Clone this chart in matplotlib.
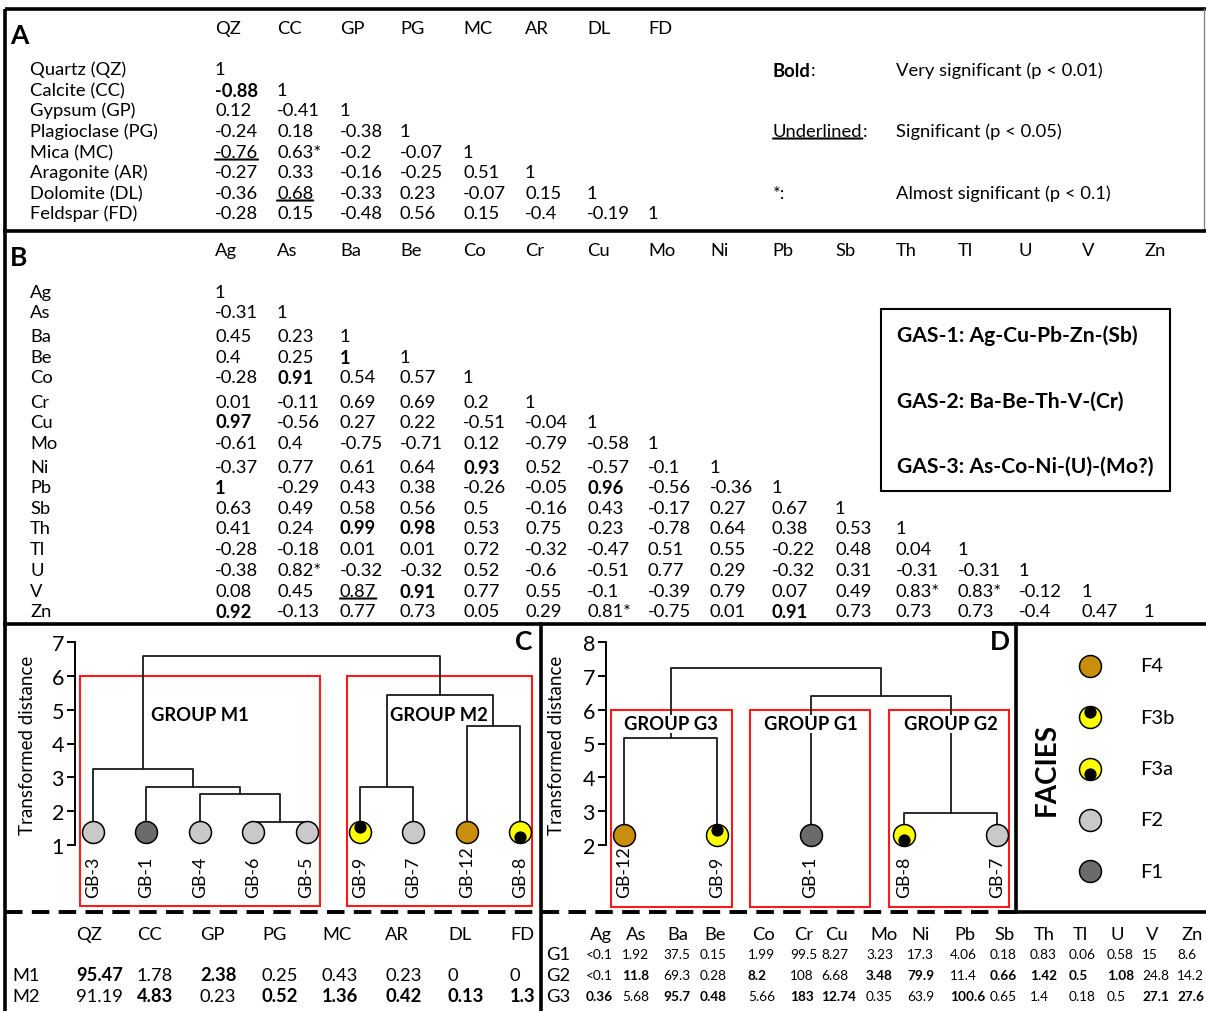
import matplotlib.pyplot as plt
from matplotlib.patches import Rectangle
from matplotlib.transforms import offset_copy, blended_transform_factory

plt.rcParams['font.family'] = ['Lato', 'DejaVu Sans']

W, H = 1206, 1012

# ---------------- data ----------------
# panel A: mineral correlation matrix (lower triangle)
min_codes = ["QZ", "CC", "GP", "PG", "MC", "AR", "DL", "FD"]
min_names = ["Quartz (QZ)", "Calcite (CC)", "Gypsum (GP)", "Plagioclase (PG)",
             "Mica (MC)", "Aragonite (AR)", "Dolomite (DL)", "Feldspar (FD)"]
min_corr = [
    ["1"],
    ["-0.88", "1"],
    ["0.12", "-0.41", "1"],
    ["-0.24", "0.18", "-0.38", "1"],
    ["-0.76", "0.63*", "-0.2", "-0.07", "1"],
    ["-0.27", "0.33", "-0.16", "-0.25", "0.51", "1"],
    ["-0.36", "0.68", "-0.33", "0.23", "-0.07", "0.15", "1"],
    ["-0.28", "0.15", "-0.48", "0.56", "0.15", "-0.4", "-0.19", "1"],
]
min_bold = [(1, 0)]
min_under = [(4, 0), (6, 1)]

# panel B: element correlation matrix (lower triangle)
elem_codes = ["Ag", "As", "Ba", "Be", "Co", "Cr", "Cu", "Mo",
              "Ni", "Pb", "Sb", "Th", "Tl", "U", "V", "Zn"]
elem_corr = [
    ["1"],
    ["-0.31", "1"],
    ["0.45", "0.23", "1"],
    ["0.4", "0.25", "1", "1"],
    ["-0.28", "0.91", "0.54", "0.57", "1"],
    ["0.01", "-0.11", "0.69", "0.69", "0.2", "1"],
    ["0.97", "-0.56", "0.27", "0.22", "-0.51", "-0.04", "1"],
    ["-0.61", "0.4", "-0.75", "-0.71", "0.12", "-0.79", "-0.58", "1"],
    ["-0.37", "0.77", "0.61", "0.64", "0.93", "0.52", "-0.57", "-0.1", "1"],
    ["1", "-0.29", "0.43", "0.38", "-0.26", "-0.05", "0.96", "-0.56", "-0.36", "1"],
    ["0.63", "0.49", "0.58", "0.56", "0.5", "-0.16", "0.43", "-0.17", "0.27", "0.67", "1"],
    ["0.41", "0.24", "0.99", "0.98", "0.53", "0.75", "0.23", "-0.78", "0.64", "0.38", "0.53", "1"],
    ["-0.28", "-0.18", "0.01", "0.01", "0.72", "-0.32", "-0.47", "0.51", "0.55", "-0.22", "0.48",
     "0.04", "1"],
    ["-0.38", "0.82*", "-0.32", "-0.32", "0.52", "-0.6", "-0.51", "0.77", "0.29", "-0.32", "0.31",
     "-0.31", "-0.31", "1"],
    ["0.08", "0.45", "0.87", "0.91", "0.77", "0.55", "-0.1", "-0.39", "0.79", "0.07", "0.49",
     "0.83*", "0.83*", "-0.12", "1"],
    ["0.92", "-0.13", "0.77", "0.73", "0.05", "0.29", "0.81*", "-0.75", "0.01", "0.91", "0.73",
     "0.73", "0.73", "-0.4", "0.47", "1"],
]
elem_bold = [(3, 2), (4, 1), (6, 0), (8, 4), (9, 0), (9, 6), (11, 2), (11, 3),
             (14, 3), (15, 0), (15, 9)]
elem_under = [(14, 2)]

gas_lines = ["GAS-1: Ag-Cu-Pb-Zn-(Sb)", "GAS-2: Ba-Be-Th-V-(Cr)", "GAS-3: As-Co-Ni-(U)-(Mo?)"]

# panel C dendrogram (mineralogy)
c_leaves = ["GB-3", "GB-1", "GB-4", "GB-6", "GB-5", "GB-9", "GB-7", "GB-12", "GB-8"]
c_facies = ["F2", "F1", "F2", "F2", "F2", "F3b", "F2", "F4", "F3a"]
c_merges = [(3, 4, 1.68), (2, 9, 2.51), (1, 10, 2.72), (0, 11, 3.25),
            (5, 6, 2.72), (7, 8, 4.52), (13, 14, 5.44), (12, 15, 6.6)]
c_leaf_y = 1.38

# panel D dendrogram (geochemistry)
d_leaves = ["GB-12", "GB-9", "GB-1", "GB-8", "GB-7"]
d_facies = ["F4", "F3b", "F1", "F3a", "F2"]
d_merges = [(0, 1, 5.17), (3, 4, 2.95), (2, 6, 6.41), (5, 7, 7.24)]
d_leaf_y = 2.3

facies_names = ["F4", "F3b", "F3a", "F2", "F1"]
facies_color = {"F4": "#c98f0c", "F3b": "#ffff00", "F3a": "#ffff00",
                "F2": "#c9c9c9", "F1": "#6b6b6b"}
facies_dot = {"F3b": 1, "F3a": -1}

# group mean mineralogy
grp_min_rows = ["M1", "M2"]
grp_min_vals = [["95.47", "1.78", "2.38", "0.25", "0.43", "0.23", "0", "0"],
                ["91.19", "4.83", "0.23", "0.52", "1.36", "0.42", "0.13", "1.3"]]
grp_min_bold = [[1, 0, 1, 0, 0, 0, 0, 0],
                [0, 1, 0, 1, 1, 1, 1, 1]]

# group mean geochemistry
grp_geo_rows = ["G1", "G2", "G3"]
grp_geo_vals = [
    ["<0.1", "1.92", "37.5", "0.15", "1.99", "99.5", "8.27", "3.23", "17.3", "4.06", "0.18",
     "0.83", "0.06", "0.58", "15", "8.6"],
    ["<0.1", "11.8", "69.3", "0.28", "8.2", "108", "6.68", "3.48", "79.9", "11.4", "0.66",
     "1.42", "0.5", "1.08", "24.8", "14.2"],
    ["0.36", "5.68", "95.7", "0.48", "5.66", "183", "12.74", "0.35", "63.9", "100.6", "0.65",
     "1.4", "0.18", "0.5", "27.1", "27.6"],
]
grp_geo_bold = [
    [0] * 16,
    [0, 1, 0, 0, 1, 0, 0, 1, 1, 0, 1, 1, 1, 1, 0, 0],
    [1, 0, 1, 1, 0, 1, 1, 0, 0, 1, 0, 0, 0, 0, 1, 1],
]

# ---------------- layout (pixels) ----------------
col_x = [215, 277, 340, 400, 463, 525, 587, 648, 710, 772, 835, 896, 958, 1019, 1082, 1144]
a_rows_y = [70, 91, 111, 132, 153, 173, 194, 214]
b_rows_y = [293, 313, 337, 358, 378, 403, 423, 444, 468, 488, 509, 529, 550, 571, 592, 612]
min_tab_x = [76, 137, 200, 262, 322, 385, 448, 510]
geo_tab_x = [586, 622, 663, 700, 748, 790, 821, 866, 907, 950, 990, 1030, 1069, 1107, 1142, 1177]

fig = plt.figure(figsize=(W / 100, H / 100), dpi=100)
bg = fig.add_axes([0, 0, 1, 1])
bg.set_xlim(0, W)
bg.set_ylim(H, 0)
bg.axis("off")

FS = 13.2


def underline(t):
    bg.annotate("", xy=(1, 0.03), xycoords=t, xytext=(0, 0.03), textcoords=t,
                arrowprops=dict(arrowstyle="-", lw=1.5, color="black", shrinkA=0, shrinkB=0))


# frame lines
lw_frame = 2.6
bg.plot([5, W], [10, 10], color="black", lw=lw_frame, solid_capstyle="butt")
bg.plot([5, 5], [10, H], color="black", lw=lw_frame, solid_capstyle="butt")
bg.plot([1204, 1204], [10, 232], color="#888888", lw=1)
bg.plot([5, W], [232, 232], color="black", lw=lw_frame)
bg.plot([5, W], [625, 625], color="black", lw=lw_frame)
bg.plot([541, 541], [625, H], color="black", lw=lw_frame)
bg.plot([1016, 1016], [625, 913], color="black", lw=lw_frame)
bg.plot([1016, W], [913, 913], color="black", lw=lw_frame)
bg.plot([5, 1016], [913, 913], color="black", lw=2.8, ls=(0, (4.5, 2.4)))

# ---------------- panel A ----------------
bg.text(10, 36, "A", fontsize=19, fontweight="bold", va="center", ha="left")
for j, c in enumerate(min_codes):
    bg.text(col_x[j], 29, c, fontsize=FS, va="center")
for i, name in enumerate(min_names):
    bg.text(30, a_rows_y[i], name, fontsize=FS, va="center")
    for j, v in enumerate(min_corr[i]):
        t = bg.text(col_x[j], a_rows_y[i], v, fontsize=FS, va="center",
                    fontweight="bold" if (i, j) in min_bold else "normal")
        if (i, j) in min_under:
            underline(t)

t = bg.text(773, 71, "Bold", fontsize=FS, fontweight="bold", va="center")
bg.annotate(":", xy=(1, 0.5), xycoords=t, va="center", ha="left", fontsize=FS)
bg.text(896, 71, "Very significant (p < 0.01)", fontsize=FS, va="center")
t = bg.text(773, 132, "Underlined", fontsize=FS, va="center")
underline(t)
bg.annotate(":", xy=(1, 0.5), xycoords=t, va="center", ha="left", fontsize=FS)
bg.text(896, 132, "Significant (p < 0.05)", fontsize=FS, va="center")
bg.text(773, 194, "*:", fontsize=FS, va="center")
bg.text(896, 194, "Almost significant (p < 0.1)", fontsize=FS, va="center")

# ---------------- panel B ----------------
bg.text(10, 258, "B", fontsize=19, fontweight="bold", va="center", ha="left")
for j, c in enumerate(elem_codes):
    bg.text(col_x[j], 251, c, fontsize=FS, va="center")
for i, c in enumerate(elem_codes):
    bg.text(30, b_rows_y[i], c, fontsize=FS, va="center")
    for j, v in enumerate(elem_corr[i]):
        t = bg.text(col_x[j], b_rows_y[i], v, fontsize=FS, va="center",
                    fontweight="bold" if (i, j) in elem_bold else "normal")
        if (i, j) in elem_under:
            underline(t)

bg.add_patch(Rectangle((881, 310), 289, 182, fill=False, ec="black", lw=1.5))
for k, s in enumerate(gas_lines):
    bg.text(897, 336 + 65.5 * k, s, fontsize=15.2, fontweight="bold", va="center")


# ---------------- dendrograms ----------------
def draw_facies(ax, x, y, f, trans):
    ax.plot(x, y, "o", ms=15.8, mfc=facies_color[f], mec="black", mew=1.1,
            transform=trans, clip_on=False, zorder=5)
    if f in facies_dot:
        tr = offset_copy(trans, fig=fig, x=0, y=5 * facies_dot[f], units="dots")
        ax.plot(x, y, "o", ms=7.8, color="black", transform=tr, clip_on=False, zorder=6)


def dendro(ax, leaves, facies, merges, leaf_y):
    xs = list(range(len(leaves)))
    ys = [leaf_y] * len(leaves)
    for a, b, h in merges:
        ax.plot([xs[a], xs[a], xs[b], xs[b]], [ys[a], h, h, ys[b]], color="#1a1a1a",
                lw=1.3, zorder=2, clip_on=False)
        xs.append((xs[a] + xs[b]) / 2)
        ys.append(h)
    for i, f in enumerate(facies):
        draw_facies(ax, i, leaf_y, f, ax.transData)
    tr = blended_transform_factory(ax.transData, bg.transData)
    for i, name in enumerate(leaves):
        ax.text(i, 898, name, rotation=90, ha="center", va="bottom", fontsize=12.8,
                transform=tr, clip_on=False)


def make_axes(left, right, top, bottom, x0, dx):
    ax = fig.add_axes([left / W, 1 - bottom / H, (right - left) / W, (bottom - top) / H])
    ax.set_xlim(-(x0 - left) / dx, (right - x0) / dx)
    ax.patch.set_alpha(0)
    for s in ["top", "right", "bottom"]:
        ax.spines[s].set_visible(False)
    ax.spines["left"].set_linewidth(1.4)
    ax.set_xticks([])
    ax.tick_params(axis="y", length=6, width=1.4, labelsize=15.5, pad=2)
    return ax


# panel C
axc = make_axes(75, 540, 643, 846, 93, 53.4)
axc.set_ylim(1, 7)
axc.set_yticks(range(1, 8))
dendro(axc, c_leaves, c_facies, c_merges, c_leaf_y)
bg.text(28, 745, "Transformed distance", rotation=90, ha="center", va="center", fontsize=13.5)
bg.add_patch(Rectangle((80, 677), 240, 230, fill=False, ec="#ff1a1a", lw=1.5))
bg.add_patch(Rectangle((347, 677), 185, 230, fill=False, ec="#ff1a1a", lw=1.5))
axc.text(2, 4.87, "GROUP M1", ha="center", va="center", fontsize=13.2, fontweight="bold", zorder=7)
axc.text(6.48, 4.87, "GROUP M2", ha="center", va="center", fontsize=13.2, fontweight="bold", zorder=7)
bg.text(524, 642, "C", fontsize=19, fontweight="bold", ha="center", va="center")

# panel D
axd = make_axes(606, 1016, 643, 846, 624, 93.3)
axd.set_ylim(2, 8)
axd.set_yticks(range(2, 9))
dendro(axd, d_leaves, d_facies, d_merges, d_leaf_y)
bg.text(557, 745, "Transformed distance", rotation=90, ha="center", va="center", fontsize=13.5)
bg.add_patch(Rectangle((611, 711), 121, 197, fill=False, ec="#ff1a1a", lw=1.5))
bg.add_patch(Rectangle((750, 711), 120, 197, fill=False, ec="#ff1a1a", lw=1.5))
bg.add_patch(Rectangle((889, 711), 120, 197, fill=False, ec="#ff1a1a", lw=1.5))
for xc, s in [(0.5, "GROUP G3"), (2, "GROUP G1"), (3.5, "GROUP G2")]:
    axd.text(xc, 5.58, s, ha="center", va="center", fontsize=13.2, fontweight="bold", zorder=7,
             bbox=dict(fc="white", ec="none", pad=0.5))
bg.text(1000, 642, "D", fontsize=19, fontweight="bold", ha="center", va="center")

# facies legend
for k, f in enumerate(facies_names):
    y = 667 + 51.3 * k
    draw_facies(bg, 1090, y, f, bg.transData)
    bg.text(1140, y, f, fontsize=14.5, va="center")
bg.text(1047, 770, "FACIES", rotation=90, fontsize=20, fontweight="bold", ha="center", va="center")

# ---------------- bottom tables ----------------
for j, c in enumerate(min_codes):
    bg.text(min_tab_x[j], 935, c, fontsize=FS, va="center")
for i, r in enumerate(grp_min_rows):
    y = 976 + 21 * i
    bg.text(12, y, r, fontsize=FS, va="center")
    for j, v in enumerate(grp_min_vals[i]):
        bg.text(min_tab_x[j], y, v, fontsize=FS, va="center",
                fontweight="bold" if grp_min_bold[i][j] else "normal")

for j, c in enumerate(elem_codes):
    bg.text(geo_tab_x[j] + 4, 935, c, fontsize=FS, va="center")
for i, r in enumerate(grp_geo_rows):
    y = 955 + 21 * i
    bg.text(546, y, r, fontsize=FS, va="center")
    for j, v in enumerate(grp_geo_vals[i]):
        bg.text(geo_tab_x[j], y, v, fontsize=9.8, va="center",
                fontweight="bold" if grp_geo_bold[i][j] else "normal")

fig.savefig("out.png", dpi=100)
